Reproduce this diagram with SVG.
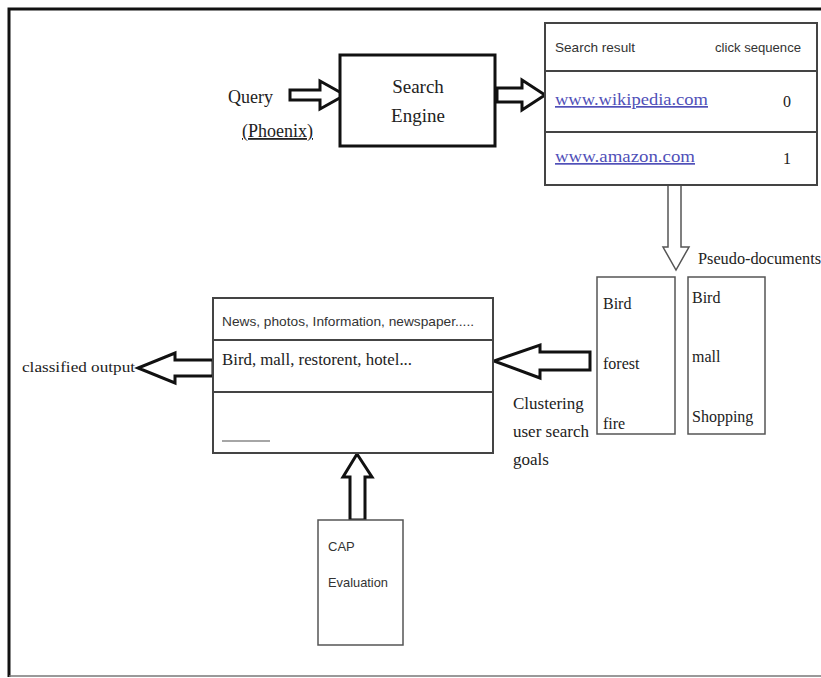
<svg xmlns="http://www.w3.org/2000/svg" width="821" height="678" viewBox="0 0 821 678">
<style>
.serif{font-family:"Liberation Serif","Times New Roman",serif;fill:#222}
.sans{font-family:"Liberation Sans",Arial,sans-serif;fill:#333}
.box{fill:#fff;stroke:#444;stroke-width:2}
.thin{fill:#fff;stroke:#555;stroke-width:1.5}
.arrow{fill:#fff;stroke:#111;stroke-width:3;stroke-linejoin:miter}
.link{fill:#5050b8;font-family:"Liberation Serif","Times New Roman",serif;text-decoration:underline}
</style>
<rect width="821" height="678" fill="#fff"/>
<g id="frame">
<path d="M9,677 V9 H821" fill="none" stroke="#111" stroke-width="3"/>
<line x1="9" y1="676" x2="821" y2="676" stroke="#777" stroke-width="1.5"/>
</g>
<g id="connectors">
<path class="arrow" d="M290,90 H320 V81 L345,95 L320,109 V100 H290 Z"/>
<path class="arrow" d="M497,88 H522 V80 L545,95 L522,110 V102 H497 Z"/>
<path d="M668,186 V247 H663 L676,270 L689,247 H681 V186" fill="#fff" stroke="#555" stroke-width="1.5"/>
<path class="arrow" d="M590,352 H540 V345 L494,361 L540,378 V370 H590 Z"/>
<path class="arrow" d="M213,360 H175 V353 L138,368 L175,383 V376 H213 Z"/>
<path class="arrow" d="M350,520 V477 H343 L357,454 L372,477 H365 V520 Z"/>
</g>
<g id="query">
<text class="serif" x="228" y="103" font-size="18">Query</text>
<text class="serif" x="242" y="137" font-size="18" text-decoration="underline">(Phoenix)</text>
</g>
<g id="search-engine">
<rect x="340" y="55" width="155" height="91" fill="#fff" stroke="#111" stroke-width="3"/>
<text class="serif" x="418" y="93" font-size="19" text-anchor="middle">Search</text>
<text class="serif" x="418" y="122" font-size="19" text-anchor="middle">Engine</text>
</g>
<g id="search-results">
<rect class="box" x="545" y="23" width="272" height="162"/>
<line x1="545" y1="71" x2="817" y2="71" stroke="#444" stroke-width="2"/>
<line x1="545" y1="132" x2="817" y2="132" stroke="#444" stroke-width="2"/>
<text class="sans" x="555" y="52" font-size="13" textLength="80" lengthAdjust="spacingAndGlyphs">Search result</text>
<text class="sans" x="715" y="52" font-size="13" textLength="86" lengthAdjust="spacingAndGlyphs">click sequence</text>
<text class="link" x="555" y="105" font-size="17" textLength="153" lengthAdjust="spacingAndGlyphs">www.wikipedia.com</text>
<text class="serif" x="783" y="107" font-size="16">0</text>
<text class="link" x="555" y="162" font-size="17" textLength="140" lengthAdjust="spacingAndGlyphs">www.amazon.com</text>
<text class="serif" x="783" y="164" font-size="16">1</text>
</g>
<g id="pseudo-label">
<text class="serif" x="698" y="264" font-size="16" textLength="123" lengthAdjust="spacingAndGlyphs">Pseudo-documents</text>
</g>
<g id="pseudo-doc-1">
<rect class="thin" x="597" y="277" width="78" height="157"/>
<text class="serif" x="603" y="309" font-size="16">Bird</text>
<text class="serif" x="603" y="369" font-size="16">forest</text>
<text class="serif" x="603" y="429" font-size="16">fire</text>
</g>
<g id="pseudo-doc-2">
<rect class="thin" x="688" y="277" width="77" height="157"/>
<text class="serif" x="692" y="303" font-size="16">Bird</text>
<text class="serif" x="692" y="362" font-size="16">mall</text>
<text class="serif" x="692" y="422" font-size="16">Shopping</text>
</g>
<g id="clustering-label">
<text class="serif" x="513" y="409" font-size="17">Clustering</text>
<text class="serif" x="513" y="437" font-size="17">user search</text>
<text class="serif" x="513" y="465" font-size="17">goals</text>
</g>
<g id="classes">
<rect class="box" x="213" y="298" width="280" height="155"/>
<line x1="213" y1="340" x2="493" y2="340" stroke="#444" stroke-width="2"/>
<line x1="213" y1="392" x2="493" y2="392" stroke="#444" stroke-width="2"/>
<text class="sans" x="222" y="326" font-size="13" textLength="252" lengthAdjust="spacingAndGlyphs">News, photos, Information, newspaper.....</text>
<text class="serif" x="222" y="365" font-size="16" textLength="190" lengthAdjust="spacingAndGlyphs">Bird, mall, restorent, hotel...</text>
<line x1="222" y1="441" x2="270" y2="441" stroke="#888" stroke-width="1.5"/>
</g>
<g id="classified-output">
<text class="serif" x="22" y="372" font-size="15" textLength="113" lengthAdjust="spacingAndGlyphs">classified output</text>
</g>
<g id="cap-evaluation">
<rect class="thin" x="318" y="520" width="85" height="125"/>
<text class="sans" x="328" y="551" font-size="13">CAP</text>
<text class="sans" x="328" y="587" font-size="13" textLength="60" lengthAdjust="spacingAndGlyphs">Evaluation</text>
</g>
</svg>
